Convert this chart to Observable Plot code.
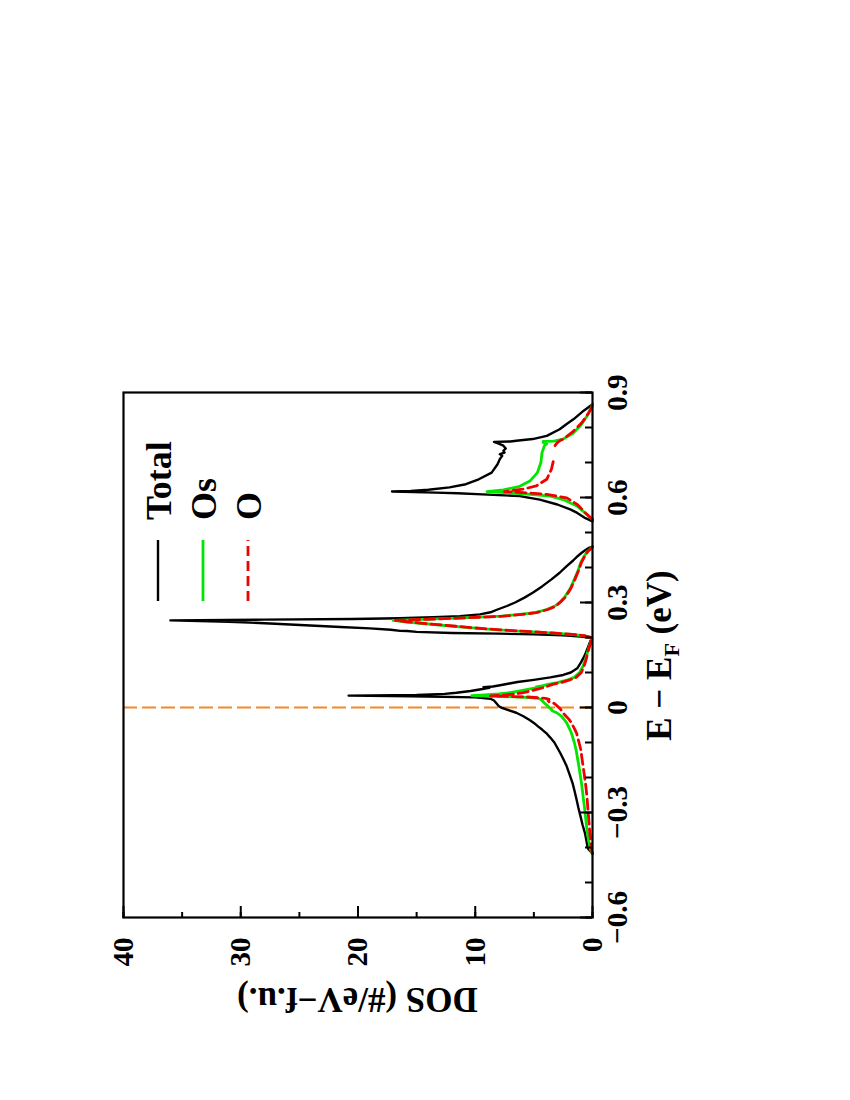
<!DOCTYPE html>
<html>
<head>
<meta charset="utf-8">
<script src="https://cdn.jsdelivr.net/npm/d3@7"></script>
<script src="https://cdn.jsdelivr.net/npm/@observablehq/plot@0.6"></script>
<style>
html, body { margin: 0; padding: 0; background: #fff; width: 850px; height: 1100px; overflow: hidden; }
#wrap { position: absolute; left: 103px; top: 1018px; transform-origin: 0 0; transform: rotate(-90deg); }
#wrap svg { display: block; }
</style>
</head>
<body>
<div id="wrap"></div>
<script>
// ---------- data (energy E - E_F in eV, DOS in #/eV-f.u.) ----------
const totalE = [-0.418,-0.412,-0.405,-0.397,-0.380,-0.358,-0.335,-0.311,-0.287,-0.263,-0.240,-0.216,-0.192,-0.168,-0.150,-0.130,-0.115,-0.100,-0.086,-0.073,-0.063,-0.054,-0.044,-0.035,-0.025,-0.015,-0.006,0.000,0.004,0.012,0.020,0.025,0.029,0.032,0.034,0.036,0.039,0.042,0.047,0.052,0.056,0.058,0.060,0.063,0.068,0.073,0.079,0.086,0.093,0.100,0.112,0.129,0.143,0.157,0.175,0.190,0.196,
  0.200,0.203,0.206,0.209,0.211,0.213,0.216,0.2185,0.219,0.222,0.226,0.230,0.235,0.240,0.245,0.249,0.251,0.253,0.255,0.258,0.261,0.266,0.272,0.280,0.290,0.300,0.314,0.328,0.346,0.366,0.385,0.404,0.420,0.433,0.442,0.450,0.456,0.460,
  0.532,0.541,0.556,0.566,0.580,0.594,0.604,0.609,0.612,0.614,0.617,0.619,0.622,0.629,0.638,0.652,0.671,0.695,0.710,0.719,0.724,0.728,0.733,0.740,0.748,0.754,0.759,0.760,0.762,0.767,0.776,0.795,0.810,0.824,0.838,0.848,0.862,0.867];
const totalDOS = [0,0.15,0.35,0.43,0.52,0.65,0.85,1.02,1.2,1.36,1.52,1.7,1.95,2.2,2.45,2.75,3.0,3.25,3.6,3.95,4.3,4.65,5.0,5.4,5.9,6.5,7.3,7.8,8.0,8.2,8.4,8.7,10.0,15.5,20.8,15.0,12.6,11.6,10.4,9.5,8.8,9.3,8.5,8.0,7.2,6.4,5.0,3.6,2.5,1.85,1.3,0.98,0.75,0.56,0.35,0.18,0.05,
  0.3,1.0,2.5,5.0,8.0,12.0,15.0,15.8,16.4,17.2,19.0,21.5,24.5,27.5,31.0,36.0,28.0,20.5,16.5,13.6,11.3,9.6,8.7,8.1,7.3,6.6,5.8,5.1,4.3,3.5,2.8,2.2,1.65,1.25,0.92,0.6,0.3,0,
  0,0.6,1.3,1.9,3.0,4.5,6.2,9.4,11.5,13.4,17.1,15.5,14.0,12.2,10.8,9.7,8.6,8.1,7.9,7.7,7.9,7.5,7.6,7.4,7.6,8.0,8.4,7.0,6.5,5.1,3.9,2.8,2.2,1.6,1.1,0.75,0.17,0];

const osE = [-0.418,-0.406,-0.380,-0.358,-0.335,-0.311,-0.287,-0.263,-0.240,-0.216,-0.192,-0.168,-0.145,-0.121,-0.100,-0.073,-0.058,-0.044,-0.035,-0.025,-0.015,-0.010,-0.004,0.000,0.004,0.013,0.023,0.027,0.030,0.032,0.034,0.036,0.039,0.042,0.047,0.053,0.057,0.059,0.062,0.066,0.071,0.078,0.086,0.100,0.120,0.140,0.157,0.175,0.190,0.196,
  0.199,0.201,0.205,0.209,0.213,0.218,0.223,0.229,0.235,0.240,0.245,0.249,0.252,0.256,0.261,0.266,0.271,0.280,0.290,0.302,0.314,0.340,0.366,0.390,0.414,0.433,0.445,0.453,0.459,
  0.537,0.551,0.575,0.594,0.604,0.609,0.614,0.617,0.622,0.632,0.648,0.671,0.700,0.729,0.748,0.754,0.757,0.760,0.761,0.767,0.781,0.805,0.833,0.857,0.865];
const osDOS = [0,0.17,0.33,0.43,0.52,0.6,0.68,0.77,0.85,0.94,1.05,1.16,1.28,1.4,1.55,1.8,2.0,2.2,2.4,2.65,3.05,3.4,3.55,3.7,3.8,4.1,4.4,4.7,6.2,8.5,10.3,9.2,8.0,7.2,6.3,5.3,4.7,4.8,4.3,3.8,3.0,2.2,1.56,1.1,0.78,0.58,0.43,0.27,0.12,0.03,
  0.1,0.25,0.7,1.8,3.6,6.2,8.6,10.8,12.8,14.5,16.0,17.0,14.5,11.0,7.8,6.2,4.9,3.9,3.2,2.75,2.4,1.9,1.55,1.25,1.0,0.7,0.45,0.2,0,
  0,0.46,1.3,2.5,3.6,5.3,7.5,9.0,7.6,6.2,5.3,4.7,4.4,4.3,4.1,3.9,4.2,4.2,3.3,2.5,1.75,1.03,0.46,0.1,0];

const oE = [-0.418,-0.406,-0.380,-0.358,-0.335,-0.311,-0.287,-0.263,-0.240,-0.216,-0.192,-0.168,-0.145,-0.120,-0.100,-0.073,-0.063,-0.044,-0.034,-0.016,-0.006,0.004,0.010,0.013,0.016,0.020,0.023,0.026,0.030,0.033,0.036,0.039,0.042,0.047,0.053,0.059,0.066,0.071,0.078,0.086,0.100,0.120,0.140,0.157,0.175,0.190,0.196,
  0.199,0.201,0.205,0.209,0.213,0.218,0.223,0.229,0.235,0.240,0.245,0.249,0.252,0.256,0.261,0.266,0.271,0.280,0.290,0.302,0.314,0.340,0.366,0.390,0.414,0.433,0.445,0.453,0.459,
  0.537,0.556,0.580,0.599,0.609,0.614,0.617,0.624,0.633,0.652,0.681,0.710,0.748,0.757,0.762,0.767,0.786,0.814,0.843,0.862];
const oDOS = [0,0.08,0.16,0.23,0.28,0.34,0.4,0.45,0.52,0.6,0.7,0.8,0.9,1.0,1.15,1.36,1.5,1.8,2.0,2.5,2.7,3.0,3.2,3.35,3.7,3.8,3.7,4.0,5.5,8.7,7.4,6.5,6.0,5.3,4.6,4.0,3.4,2.7,2.0,1.4,0.95,0.7,0.52,0.4,0.25,0.12,0.03,
  0.1,0.22,0.65,1.7,3.4,6.0,8.4,10.6,12.6,14.3,15.8,16.8,14.2,10.8,7.6,6.0,4.8,3.8,3.1,2.7,2.35,1.85,1.5,1.2,0.95,0.65,0.42,0.18,0,
  0,0.6,1.3,2.2,3.9,5.9,7.5,5.9,4.8,3.9,3.5,3.3,3.2,3.0,2.8,2.5,1.75,0.9,0.3,0];

const fermiLevel = [0];
const eTickLabels = [-0.6, -0.3, 0, 0.3, 0.6, 0.9];
const eTicksAll = [-0.6,-0.5,-0.4,-0.3,-0.2,-0.1,0,0.1,0.2,0.3,0.4,0.5,0.6,0.7,0.8,0.9];
const dosTickLabels = [0, 10, 20, 30, 40];
const dosTicksAll = [0, 5, 10, 15, 20, 25, 30, 35, 40];

const seriesNames = ["Total", "Os", "O"];
const seriesColors = ["#000000", "#00e600", "#f00000"];
const seriesDash = [null, null, "10,5"];
const seriesWidth = [2.4, 2.8, 2.8];

// ---------- build tables ----------
function table(es, ds) {
  let seg = 0;
  return es.map((e, i) => {
    if (i > 0 && e - es[i - 1] > 0.03) seg++;
    return {E: e, dos: ds[i], seg};
  });
}
const totalData = table(totalE, totalDOS);
const osData = table(osE, osDOS);
const oData = table(oE, oDOS);

const mL = 100, mR = 20, mT = 20, mB = 90;
const innerW = 525, innerH = 469;
const W = mL + innerW + mR, H = mT + innerH + mB;
const FONT = "'Liberation Serif', 'Times New Roman', serif";
const fmt = d => d === 0 ? "0" : d3.format(".1f")(d);

const chart = Plot.plot({
  width: W, height: H,
  marginLeft: mL, marginRight: mR, marginTop: mT, marginBottom: mB,
  style: {fontFamily: FONT, fontWeight: "bold", background: "transparent", color: "black", overflow: "visible"},
  x: {domain: [-0.6, 0.9]},
  y: {domain: [0, 40]},
  marks: [
    Plot.ruleX(fermiLevel, {x: d => d, stroke: "#f28a24", strokeWidth: 2, strokeDasharray: "14,5"}),
    Plot.line(totalData, {x: "E", y: "dos", z: "seg", stroke: seriesColors[0], strokeWidth: seriesWidth[0], curve: "linear"}),
    Plot.line(osData, {x: "E", y: "dos", z: "seg", stroke: seriesColors[1], strokeWidth: seriesWidth[1], curve: "linear"}),
    Plot.line(oData, {x: "E", y: "dos", z: "seg", stroke: seriesColors[2], strokeWidth: seriesWidth[2], strokeDasharray: seriesDash[2], curve: "linear"}),
    Plot.axisX(eTickLabels, {anchor: "bottom", tickSize: 0, tickPadding: 14, tickFormat: fmt, fontSize: 29, fontWeight: "bold", label: null}),
    Plot.axisX(eTicksAll, {anchor: "bottom", tickSize: -7, tickFormat: () => "", strokeWidth: 2, label: null}),
    Plot.axisX(eTickLabels, {anchor: "bottom", tickSize: -12, tickFormat: () => "", strokeWidth: 2, label: null}),
    Plot.axisY(dosTickLabels, {anchor: "left", tickSize: 0, tickPadding: 20, tickFormat: d => String(d), fontSize: 29, fontWeight: "bold", label: null}),
    Plot.axisY(dosTicksAll, {anchor: "left", tickSize: -6, tickFormat: () => "", strokeWidth: 2, label: null}),
    Plot.axisY(dosTickLabels, {anchor: "left", tickSize: -12, tickFormat: () => "", strokeWidth: 2, label: null}),
    Plot.frame({stroke: "black", strokeWidth: 2.2})
  ]
});

const svg = d3.select(chart);
// x-axis label: E - E_F (eV)
const xl = svg.append("text")
  .attr("x", mL + innerW / 2).attr("y", mT + innerH + 79)
  .attr("text-anchor", "middle").attr("font-family", FONT).attr("font-weight", "bold").attr("font-size", 35).attr("fill", "black");
xl.append("tspan").text("E \u2212 E");
xl.append("tspan").attr("font-size", 22).attr("dy", 8).text("F");
xl.append("tspan").attr("dy", -8).text("\u00a0(eV)");
// y-axis label
svg.append("text")
  .attr("transform", `translate(30,${mT + innerH / 2}) rotate(-90)`)
  .attr("text-anchor", "middle").attr("font-family", FONT).attr("font-weight", "bold").attr("font-size", 35).attr("fill", "black")
  .text("DOS (#/eV\u2212f.u.)");
// legend
const lg = svg.append("g").attr("transform", `translate(${mL},${mT})`);
seriesNames.forEach((name, i) => {
  const yRow = 35 + i * 45;
  lg.append("line").attr("x1", 317).attr("x2", 378).attr("y1", yRow).attr("y2", yRow)
    .attr("stroke", seriesColors[i]).attr("stroke-width", seriesWidth[i])
    .attr("stroke-dasharray", seriesDash[i]);
  lg.append("text").attr("x", 398).attr("y", yRow + 13).attr("text-anchor", "start")
    .attr("font-family", FONT).attr("font-weight", "bold").attr("font-size", 36).attr("fill", "black")
    .text(name);
});

document.getElementById("wrap").appendChild(chart);
</script>
</body>
</html>
